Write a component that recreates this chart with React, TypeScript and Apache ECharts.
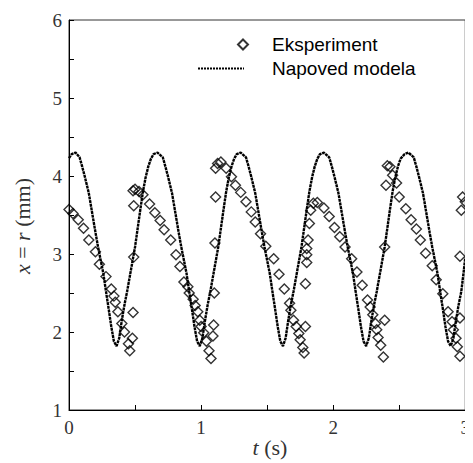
import React, { useEffect, useRef } from "react";
import * as echarts from "echarts";

// Experimental points [t (s), x (mm)]
const experimentPoints: number[][] = [
  [0.0, 3.57], [0.03, 3.52], [0.07, 3.44], [0.11, 3.33], [0.15, 3.18], [0.2, 3.03], [0.23, 2.87],
  [0.28, 2.71], [0.32, 2.55], [0.34, 2.46], [0.35, 2.38], [0.37, 2.26], [0.4, 2.11], [0.42, 2.0],
  [0.45, 1.85], [0.46, 1.76], [0.48, 1.92], [0.485, 2.25], [0.49, 2.96], [0.49, 3.62], [0.485, 3.81],
  [0.5, 3.83], [0.53, 3.8], [0.56, 3.76], [0.61, 3.64], [0.65, 3.53], [0.69, 3.43], [0.72, 3.31],
  [0.77, 3.18], [0.81, 2.99], [0.84, 2.84], [0.87, 2.64], [0.9, 2.58], [0.91, 2.5], [0.94, 2.42],
  [0.955, 2.34], [0.975, 2.26], [0.99, 2.15], [1.0, 2.07], [1.02, 1.99], [1.04, 1.88], [1.06, 1.76],
  [1.075, 1.66], [1.09, 1.95], [1.095, 2.09], [1.1, 2.5], [1.105, 3.14], [1.11, 3.73], [1.11, 4.1],
  [1.125, 4.16], [1.15, 4.18], [1.19, 4.1], [1.23, 3.99], [1.26, 3.88], [1.3, 3.79], [1.34, 3.67],
  [1.38, 3.54], [1.41, 3.41], [1.45, 3.26], [1.49, 3.1], [1.55, 2.94], [1.59, 2.74], [1.63, 2.55],
  [1.67, 2.37], [1.68, 2.28], [1.7, 2.15], [1.72, 2.07], [1.74, 1.98], [1.75, 1.9], [1.77, 1.8],
  [1.78, 1.73], [1.79, 2.07], [1.79, 2.62], [1.8, 2.89], [1.8, 2.99], [1.8, 3.07], [1.81, 3.18],
  [1.82, 3.39], [1.83, 3.56], [1.85, 3.65], [1.88, 3.66], [1.93, 3.59], [1.97, 3.48], [2.01, 3.34],
  [2.05, 3.22], [2.09, 3.09], [2.14, 2.94], [2.18, 2.77], [2.22, 2.6], [2.26, 2.41], [2.28, 2.32],
  [2.3, 2.22], [2.32, 2.11], [2.33, 2.03], [2.34, 1.93], [2.36, 1.83], [2.38, 1.68], [2.39, 2.15],
  [2.39, 3.09], [2.4, 3.88], [2.41, 4.13], [2.43, 4.12], [2.45, 4.01], [2.48, 3.91], [2.5, 3.73],
  [2.55, 3.58], [2.59, 3.44], [2.63, 3.32], [2.66, 3.18], [2.7, 3.01], [2.75, 2.85], [2.78, 2.67],
  [2.83, 2.49], [2.87, 2.26], [2.9, 2.13], [2.91, 2.03], [2.93, 1.92], [2.94, 1.81], [2.96, 1.69],
  [2.96, 2.18], [2.96, 2.97], [2.97, 3.56], [2.98, 3.73], [3.0, 3.67],
];

// Model prediction [t (s), x (mm)]
const modelPoints: number[][] = [
  [0.0, 4.23], [0.02, 4.28], [0.05, 4.3], [0.08, 4.24], [0.1, 4.12], [0.12, 3.99], [0.15, 3.78],
  [0.18, 3.48], [0.2, 3.28], [0.22, 3.09], [0.24, 2.92], [0.26, 2.75], [0.28, 2.52], [0.3, 2.3],
  [0.32, 2.07], [0.34, 1.88], [0.36, 1.82], [0.38, 1.92], [0.4, 2.15], [0.42, 2.35], [0.44, 2.52],
  [0.46, 2.71], [0.48, 2.9], [0.5, 3.09], [0.52, 3.33], [0.54, 3.57], [0.56, 3.8], [0.58, 3.98],
  [0.6, 4.12], [0.62, 4.22], [0.64, 4.28], [0.67, 4.3],
  [0.71, 4.24], [0.73, 4.12], [0.75, 3.99], [0.78, 3.78], [0.81, 3.48], [0.83, 3.28], [0.85, 3.09],
  [0.87, 2.92], [0.89, 2.75], [0.91, 2.52], [0.93, 2.3], [0.95, 2.07], [0.97, 1.88], [0.99, 1.82],
  [1.01, 1.92], [1.03, 2.15], [1.05, 2.35], [1.07, 2.52], [1.09, 2.71], [1.11, 2.9], [1.13, 3.09],
  [1.15, 3.33], [1.17, 3.57], [1.19, 3.8], [1.21, 3.98], [1.23, 4.12], [1.25, 4.22], [1.27, 4.28],
  [1.3, 4.3],
  [1.34, 4.24], [1.36, 4.12], [1.38, 3.99], [1.41, 3.78], [1.44, 3.48], [1.46, 3.28], [1.48, 3.09],
  [1.5, 2.92], [1.52, 2.75], [1.54, 2.52], [1.56, 2.3], [1.58, 2.07], [1.6, 1.88], [1.62, 1.82],
  [1.64, 1.92], [1.66, 2.15], [1.68, 2.35], [1.7, 2.52], [1.72, 2.71], [1.74, 2.9], [1.76, 3.09],
  [1.78, 3.33], [1.8, 3.57], [1.82, 3.8], [1.84, 3.98], [1.86, 4.12], [1.88, 4.22], [1.9, 4.28],
  [1.93, 4.3],
  [1.97, 4.24], [1.99, 4.12], [2.01, 3.99], [2.04, 3.78], [2.07, 3.48], [2.09, 3.28], [2.11, 3.09],
  [2.13, 2.92], [2.15, 2.75], [2.17, 2.52], [2.19, 2.3], [2.21, 2.07], [2.23, 1.88], [2.25, 1.82],
  [2.27, 1.92], [2.29, 2.15], [2.31, 2.35], [2.33, 2.52], [2.35, 2.71], [2.37, 2.9], [2.39, 3.09],
  [2.41, 3.33], [2.43, 3.57], [2.45, 3.8], [2.47, 3.98], [2.49, 4.12], [2.51, 4.22], [2.54, 4.28],
  [2.57, 4.3],
  [2.61, 4.24], [2.63, 4.12], [2.65, 3.99], [2.68, 3.78], [2.71, 3.48], [2.73, 3.28], [2.75, 3.09],
  [2.77, 2.92], [2.79, 2.75], [2.81, 2.52], [2.83, 2.3], [2.85, 2.07], [2.87, 1.88], [2.89, 1.82],
  [2.91, 1.92], [2.93, 2.15], [2.95, 2.35], [2.97, 2.52], [2.99, 2.8], [3.0, 2.95],
];

const seriesNames = ["Eksperiment", "Napoved modela"];
const xTickLabels = ["0", "1", "2", "3"];
const yTickLabels = ["1", "2", "3", "4", "5", "6"];

const serif = "'Liberation Serif', 'DejaVu Serif', serif";
const sans = "'Liberation Sans', Arial, sans-serif";

export default function App() {
  const ref = useRef<HTMLDivElement>(null);
  useEffect(() => {
    if (!ref.current) return;
    const chart = echarts.init(ref.current, undefined, { renderer: "svg" });
    chart.setOption({
      animation: false,
      backgroundColor: "#fff",
      grid: { left: 69, right: 6, top: 20, bottom: 53, show: true, borderColor: "#333", borderWidth: 1 },
      legend: [
        {
          data: [seriesNames[0]],
          left: 237,
          top: 35,
          padding: 0,
          itemWidth: 10,
          itemHeight: 10,
          textStyle: { fontFamily: sans, fontSize: 19, color: "#000", padding: [0, 0, 0, 19] },
        },
        {
          data: [seriesNames[1]],
          left: 197,
          top: 59,
          padding: 0,
          itemWidth: 46,
          itemHeight: 14,
          itemStyle: { opacity: 0, borderWidth: 0 },
          lineStyle: { color: "#000", width: 2, type: [2, 1], opacity: 1 },
          textStyle: { fontFamily: sans, fontSize: 19, color: "#000", padding: [0, 0, 0, 23] },
        },
      ],
      xAxis: {
        type: "value",
        min: 0,
        max: 3,
        interval: 0.5,
        axisLine: { lineStyle: { color: "#000", width: 1 } },
        axisTick: { inside: true, length: 5, lineStyle: { color: "#000" } },
        splitLine: { show: false },
        axisLabel: {
          fontFamily: serif,
          fontSize: 19,
          color: "#333",
          margin: 8,
          formatter: (v: number) => (Number.isInteger(v) ? xTickLabels[v] : ""),
        },
      },
      yAxis: {
        type: "value",
        min: 1,
        max: 6,
        interval: 0.5,
        axisLine: { show: true, lineStyle: { color: "#000", width: 1 } },
        axisTick: { show: true, inside: true, length: 5, lineStyle: { color: "#000" } },
        splitLine: { show: false },
        axisLabel: {
          fontFamily: serif,
          fontSize: 19,
          color: "#333",
          margin: 7,
          formatter: (v: number) => (Number.isInteger(v) ? yTickLabels[v - 1] : ""),
        },
      },
      graphic: [
        {
          type: "text",
          x: 22,
          y: 226,
          rotation: Math.PI / 2,
          style: {
            text: "{i|x} = {i|r} (mm)",
            fontFamily: serif,
            fontSize: 22,
            fill: "#333",
            align: "center",
            verticalAlign: "middle",
            rich: { i: { fontFamily: serif, fontSize: 22, fontStyle: "italic", fill: "#333" } },
          },
        },
        {
          type: "text",
          x: 270,
          y: 447,
          style: {
            text: "{i|t} (s)",
            fontFamily: serif,
            fontSize: 22,
            fill: "#333",
            align: "center",
            verticalAlign: "middle",
            rich: { i: { fontFamily: serif, fontSize: 22, fontStyle: "italic", fill: "#333" } },
          },
        },
      ],
      series: [
        {
          name: seriesNames[0],
          type: "scatter",
          data: experimentPoints,
          symbol: "diamond",
          symbolSize: 10,
          itemStyle: { color: "rgba(255,255,255,0)", borderColor: "#000", borderWidth: 1.4 },
          z: 3,
        },
        {
          name: seriesNames[1],
          type: "line",
          data: modelPoints,
          showSymbol: false,
          symbol: "none",
          smooth: false,
          lineStyle: { color: "#000", width: 2.4, type: [3, 0.7] },
          itemStyle: { color: "#000" },
          z: 2,
        },
      ],
    });
    return () => chart.dispose();
  }, []);
  return <div ref={ref} style={{ width: 473, height: 463, marginLeft: -8, marginTop: -8 }} />;
}
